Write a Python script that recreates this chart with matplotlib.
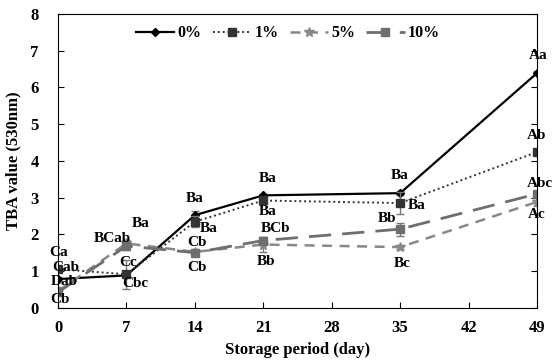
import matplotlib
matplotlib.use('Agg')
import matplotlib.pyplot as plt

plt.rcParams['font.family'] = ['Liberation Serif', 'DejaVu Serif']
plt.rcParams['font.weight'] = 'bold'

days = [0, 7, 14, 21, 35, 49]
series_names = ['0%', '1%', '5%', '10%']
v0 = [0.78, 0.88, 2.52, 3.06, 3.12, 6.39]
v1 = [1.05, 0.91, 2.34, 2.92, 2.85, 4.24]
v5 = [0.45, 1.75, 1.52, 1.72, 1.65, 2.88]
v10 = [0.42, 1.68, 1.50, 1.83, 2.14, 3.10]
e0 = [0.05, 0.05, 0.12, 0.05, 0.05, 0.05]
e1 = [0.05, 0.40, 0.15, 0.08, 0.30, 0.05]
e5 = [0.10, 0.10, 0.05, 0.20, 0.05, 0.10]
e10 = [0.10, 0.10, 0.10, 0.10, 0.18, 0.05]

# significance letters per series, per day
lab0 = ['Dab', 'Cbc', 'Ba', 'Ba', 'Ba', 'Aa']
lab1 = ['Ca', 'Cc', 'Ba', 'Ba', 'Ba', 'Ab']
lab5 = ['Cb', 'Ba', 'Cb', 'Bb', 'Bc', 'Ac']
lab10 = ['Cab', 'BCab', 'Cb', 'BCb', 'Bb', 'Abc']

# label offsets in pixels (dx, dy)
off0 = [(6, -2), (9, -8), (0, 17), (4, 17), (0, 18), (1, 18)]
off1 = [(1, 17), (2, 12), (14, -7), (4, -11), (17, -2), (0, 17)]
off5 = [(2, -8), (14, 20), (2, -16), (3, -17), (2, -16), (0, -13)]
off10 = [(8, 25), (-14, 8), (2, 10), (12, 12), (-13, 11), (3, 10)]

fig = plt.figure(figsize=(5.54, 3.64), dpi=100)
ax = fig.add_axes([0.1047, 0.1547, 0.8646, 0.8068])

styles = [
    dict(color='black', linestyle='-', marker='D', markersize=4, linewidth=1.6),
    dict(color='#333333', linestyle=(0, (1, 1.5)), marker='s', markersize=5.5, linewidth=1.4),
    dict(color='#888888', linestyle=(0, (4, 3)), marker='*', markersize=7, linewidth=1.8),
    dict(color='#6e6e6e', linestyle=(0, (8, 4)), marker='s', markersize=5.5, linewidth=2.0),
]
vals = [v0, v1, v5, v10]
errs = [e0, e1, e5, e10]
labs = [lab0, lab1, lab5, lab10]
offs = [off0, off1, off5, off10]

for name, v, e, st in zip(series_names, vals, errs, styles):
    ax.errorbar(days, v, yerr=e, fmt='none', ecolor='#777777', elinewidth=1, capsize=3)
    ax.plot(days, v, label=name, **st)

for v, lb, of in zip(vals, labs, offs):
    for d, y, t, o in zip(days, v, lb, of):
        ax.annotate(t, (d, y), xytext=o, textcoords='offset pixels',
                    ha='center', va='center', fontsize=11, fontweight='bold')

ax.set_xlim(0, 49)
ax.set_ylim(0, 8)
ax.set_xticks([0, 7, 14, 21, 28, 35, 42, 49])
ax.set_yticks(range(0, 9))
ax.tick_params(direction='in', right=True, labelsize=12, length=4)
for lbl in ax.get_xticklabels() + ax.get_yticklabels():
    lbl.set_fontweight('bold')
ax.tick_params(axis='x', pad=9)
ax.tick_params(axis='y', pad=14)
ax.set_xlabel('Storage period (day)', fontsize=12, fontweight='bold')
ax.set_ylabel('TBA value (530nm)', fontsize=12, fontweight='bold', labelpad=6)

ax.legend(loc='center', bbox_to_anchor=(0.48, 0.935), ncol=4, frameon=False,
          handlelength=2.4, columnspacing=0.7, handletextpad=0.2,
          prop={'weight': 'bold', 'size': 11.5})

fig.savefig('out.png', dpi=100)
